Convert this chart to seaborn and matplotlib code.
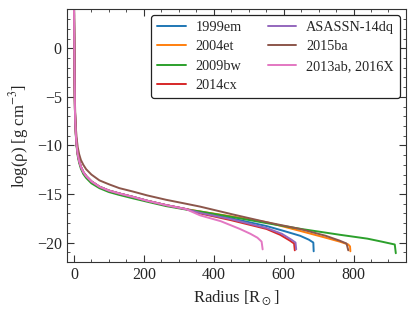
import numpy as np
import pandas as pd
import matplotlib
matplotlib.use("Agg")
import matplotlib.pyplot as plt
import seaborn as sns
from matplotlib.ticker import MultipleLocator

labels = ["1999em", "2004et", "2009bw", "2014cx", "ASASSN-14dq", "2015ba", "2013ab, 2016X"]

# shared inner steep part (radius, log rho)
r_in = [0, 1, 2, 3, 4, 6, 8, 11, 15, 20, 27, 35, 50, 73, 100, 130, 169, 210, 264, 320]
y_in = [6, 1, -3.5, -6.3, -7.6, -9.1, -10.0, -10.9, -11.6, -12.2, -12.75, -13.15, -13.7, -14.25, -14.65, -14.95, -15.3, -15.7, -16.15, -16.55]

r_1999em = r_in + [361, 450, 551, 600, 647, 672, 685, 686]
y_1999em = y_in + [-16.9, -17.5, -18.3, -18.8, -19.3, -19.7, -20.0, -20.9]

r_2004et = r_in + [361, 450, 551, 647, 720, 760, 785, 790, 791]
y_2004et = y_in + [-16.8, -17.3, -17.9, -18.8, -19.5, -19.9, -20.2, -20.4, -20.9]

r_2009bw = [0, 1, 2, 3, 4, 6, 8, 11, 15, 20, 27, 35, 50, 73, 100, 130, 169, 210, 264, 320,
            361, 450, 551, 650, 761, 840, 880, 918, 921]
y_2009bw = [6, 1, -3.6, -6.5, -7.8, -9.3, -10.2, -11.1, -11.8, -12.4, -12.95, -13.35, -13.9, -14.4, -14.8, -15.1, -15.45, -15.8, -16.25, -16.6,
            -16.8, -17.35, -18.0, -18.6, -19.2, -19.6, -19.9, -20.2, -21.1]

r_2014cx = r_in + [361, 450, 551, 590, 618, 630, 632]
y_2014cx = y_in + [-17.0, -17.7, -18.6, -19.2, -19.8, -20.1, -20.8]

r_14dq = r_in + [361, 450, 551, 595, 622, 634, 636]
y_14dq = y_in + [-16.95, -17.6, -18.5, -19.1, -19.7, -20.0, -20.7]

r_2015ba = [0, 1, 2, 3, 4, 6, 8, 11, 15, 20, 27, 35, 50, 73, 100, 130, 169, 210, 264, 320,
            361, 454, 551, 647, 720, 760, 780, 785]
y_2015ba = [6, 1.5, -3.0, -5.6, -6.9, -8.4, -9.3, -10.2, -10.9, -11.5, -12.0, -12.45, -13.0, -13.6, -14.0, -14.4, -14.75, -15.15, -15.6, -16.0,
            -16.3, -17.1, -17.9, -18.6, -19.3, -19.8, -20.1, -20.8]

r_pink = r_in + [361, 420, 475, 505, 525, 537, 540]
y_pink = y_in + [-17.2, -17.8, -18.6, -19.1, -19.5, -19.9, -20.7]

radii = [r_1999em, r_2004et, r_2009bw, r_2014cx, r_14dq, r_2015ba, r_pink]
dens = [y_1999em, y_2004et, y_2009bw, y_2014cx, y_14dq, y_2015ba, y_pink]

frames = []
for lab, r, y in zip(labels, radii, dens):
    frames.append(pd.DataFrame({"r": r, "logrho": y, "sn": lab}))
df = pd.concat(frames, ignore_index=True)

sns.set_style("ticks")
plt.rcParams["font.family"] = ["Liberation Serif", "DejaVu Serif"]
plt.rcParams["mathtext.fontset"] = "stix"

fig, ax = plt.subplots(figsize=(4.16, 3.13), dpi=100)
sns.lineplot(data=df, x="r", y="logrho", hue="sn", hue_order=labels, palette="tab10",
             sort=False, estimator=None, lw=1.4, ax=ax)

ax.set_xlim(-21, 949)
ax.set_ylim(-22, 4)
ax.xaxis.set_major_locator(MultipleLocator(200))
ax.xaxis.set_minor_locator(MultipleLocator(50))
ax.yaxis.set_major_locator(MultipleLocator(5))
ax.yaxis.set_minor_locator(MultipleLocator(1))
ax.tick_params(which="both", direction="in", top=True, right=True, labelsize=11.5,
               color="#333333")
ax.tick_params(which="major", length=5)
ax.tick_params(which="minor", length=2.5)
ax.set_xlabel(r"Radius [R$_\odot$]", fontsize=12)
ax.set_ylabel(r"log(ρ) [g cm$^{-3}$]", fontsize=12)
for s in ax.spines.values():
    s.set_color("#333333")
leg = ax.legend(ncol=2, fontsize=10.3, loc="upper right", frameon=True, fancybox=True,
                edgecolor="#222222", framealpha=1, handlelength=2.0, columnspacing=1.8,
                handletextpad=0.7, borderaxespad=0.4, labelspacing=0.45)
leg.get_frame().set_linewidth(0.9)
fig.subplots_adjust(left=0.16, right=0.975, top=0.97, bottom=0.163)
fig.savefig("out.png", dpi=100)
